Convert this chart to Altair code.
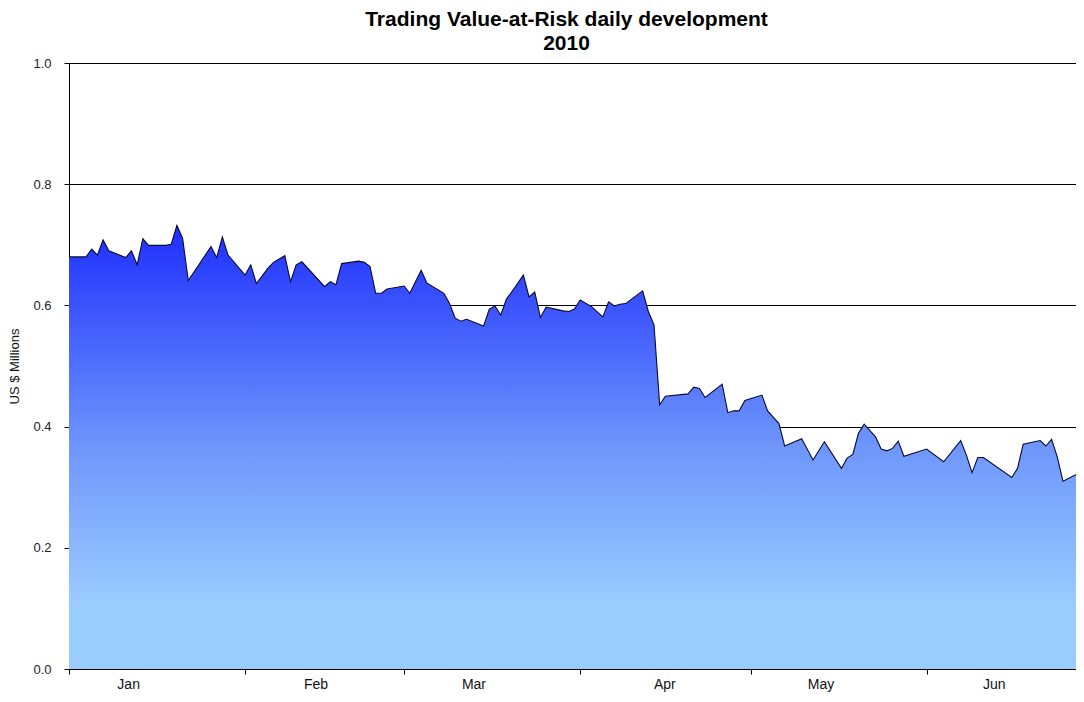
import altair as alt
import pandas as pd

# Day of year (0 = 1 Jan 2010) and trading VaR in US$ millions
day_of_year = [0, 3, 4, 5, 6, 7, 10, 11, 12, 13, 14, 17, 18, 19, 20, 21, 25, 26, 27, 28,
               31, 32, 33, 35, 36, 38, 39, 40, 41, 45, 46, 47, 48, 51, 52, 53, 54, 55, 56, 59,
               60, 62, 63, 66, 67, 68, 69, 70, 73, 74, 75, 76, 77, 78, 80, 81, 82, 83, 84, 87,
               88, 89, 90, 92, 94, 95, 96, 97, 98, 101, 102, 103, 104, 105, 109, 110, 111, 112, 115, 116,
               117, 118, 119, 122, 123, 125, 126, 129, 131, 133, 136, 137, 138, 139, 140, 142, 143, 144, 145, 146,
               147, 151, 154, 157, 158, 159, 160, 161, 166, 167, 168, 171, 172, 173, 174, 175, 178, 179]
var_value = [0.680, 0.680, 0.693, 0.683, 0.708, 0.690, 0.679, 0.690, 0.667, 0.710, 0.699, 0.699, 0.701, 0.732, 0.711, 0.641, 0.697, 0.679, 0.713, 0.683,
             0.650, 0.667, 0.636, 0.661, 0.671, 0.682, 0.639, 0.667, 0.672, 0.631, 0.639, 0.634, 0.669, 0.673, 0.671, 0.664, 0.620, 0.620, 0.627, 0.632,
             0.620, 0.658, 0.637, 0.620, 0.603, 0.579, 0.574, 0.577, 0.566, 0.594, 0.599, 0.584, 0.610, 0.623, 0.650, 0.614, 0.622, 0.580, 0.597, 0.591,
             0.590, 0.594, 0.609, 0.598, 0.581, 0.606, 0.599, 0.602, 0.603, 0.624, 0.590, 0.568, 0.436, 0.450, 0.454, 0.465, 0.463, 0.448, 0.470, 0.423,
             0.426, 0.426, 0.443, 0.452, 0.426, 0.405, 0.368, 0.380, 0.345, 0.375, 0.331, 0.348, 0.354, 0.389, 0.404, 0.383, 0.363, 0.360, 0.364, 0.376,
             0.351, 0.363, 0.342, 0.377, 0.353, 0.324, 0.349, 0.349, 0.316, 0.331, 0.371, 0.377, 0.368, 0.379, 0.350, 0.310, 0.324, 0.295]
assert len(day_of_year) == len(var_value)

# First day of each month (tick marks) and month label positions, in day-of-year units
month_start_day = [0, 31, 59, 90, 120, 151]
month_names = ["Jan", "Feb", "Mar", "Apr", "May", "Jun"]
month_label_day = [10.5, 43.5, 71.3, 104.9, 132.4, 162.9]
y_ticks = [0.0, 0.2, 0.4, 0.6, 0.8, 1.0]

df = pd.DataFrame({"day": day_of_year, "var": var_value})
months = pd.DataFrame({"day": month_label_day, "name": month_names})

FONT = "Liberation Sans"
W, H = 1007, 606

x_scale = alt.Scale(domain=[0, 177.3], nice=False, zero=False)
y_scale = alt.Scale(domain=[0, 1], nice=False)

x_axis = alt.Axis(values=month_start_day, labels=False, title=None, grid=False,
                  domainColor="black", tickColor="black", tickSize=5, domainWidth=1)
y_axis = alt.Axis(values=y_ticks, format=".1f", title="US $ Millions", grid=True,
                  gridColor="black", gridWidth=1, gridOpacity=1,
                  domainColor="black", tickColor="black", tickSize=5,
                  labelFont=FONT, labelFontSize=13, labelColor="#222222", labelPadding=13,
                  titleFont=FONT, titleFontSize=13, titleFontWeight="normal",
                  titleColor="#111111", titlePadding=11)

gradient = alt.Gradient(
    gradient="linear",
    stops=[alt.GradientStop(color="#1E2EFF", offset=0),
           alt.GradientStop(color="#6E96FB", offset=0.5),
           alt.GradientStop(color="#99CCFF", offset=0.85),
           alt.GradientStop(color="#99CCFF", offset=1)],
    x1=1, x2=1, y1=0, y2=1)

area = alt.Chart(df).mark_area(color=gradient, opacity=1, clip=True).encode(
    x=alt.X("day:Q", scale=x_scale, axis=x_axis),
    y=alt.Y("var:Q", scale=y_scale, axis=y_axis),
)
line = alt.Chart(df).mark_line(color="#0A0A30", strokeWidth=1.1, clip=True).encode(
    x=alt.X("day:Q", scale=x_scale),
    y=alt.Y("var:Q", scale=y_scale),
)
labels = alt.Chart(months).mark_text(font=FONT, fontSize=14, color="#111111",
                                     baseline="alphabetic", align="center").encode(
    x=alt.X("day:Q", scale=x_scale),
    y=alt.value(H + 20),
    text="name:N",
)

chart = alt.layer(area, line, labels).properties(
    width=W, height=H,
    title=alt.TitleParams(
        text=["Trading Value-at-Risk daily development", "2010"],
        font=FONT, fontSize=21, fontWeight="bold", color="black",
        anchor="middle", lineHeight=24, offset=3, dx=-6),
    autosize=alt.AutoSizeParams(type="none"),
    padding={"left": 61, "top": 55, "right": 0, "bottom": 25},
).configure_view(strokeWidth=0).configure(background="white")

chart.save("out.html", embed_options={"renderer": "svg", "actions": False})
